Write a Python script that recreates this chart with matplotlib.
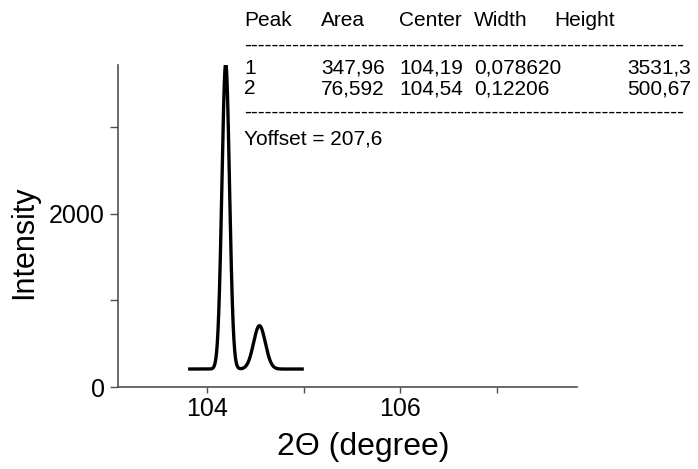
import numpy as np
import matplotlib
matplotlib.use("Agg")
import matplotlib.pyplot as plt

plt.rcParams['font.family'] = ['Liberation Sans', 'DejaVu Sans']

# ---- data (Gaussian fit results shown in the chart) ----
peak_ids = ["1", "2"]
peak_area = [347.96, 76.592]
peak_center = [104.19, 104.54]
peak_width = [0.078620, 0.12206]
peak_height = [3531.3, 500.67]
y_offset = 207.6
x_start, x_end = 103.8, 105.0

area_txt = ["347,96", "76,592"]
center_txt = ["104,19", "104,54"]
width_txt = ["0,078620", "0,12206"]
height_txt = ["3531,3", "500,67"]
header = ["Peak", "Area", "Center", "Width", "Height"]

x_ticks = [104, 105, 106, 107]
x_ticklabels = ["104", "", "106", ""]
y_ticks = [0, 1000, 2000, 3000]
y_ticklabels = ["0", "", "2000", ""]

# ---- figure ----
W, H = 698, 469
fig = plt.figure(figsize=(W / 100, H / 100), dpi=100)
ax = fig.add_axes([118 / W, 1 - 387 / H, (577 - 118) / W, (387 - 65) / H])

x = np.linspace(x_start, x_end, 2001)
y = np.full_like(x, y_offset)
for h, c, w in zip(peak_height, peak_center, peak_width):
    y += h * np.exp(-2 * ((x - c) / w) ** 2)
ax.plot(x, y, color="black", lw=2.4, solid_capstyle="butt", solid_joinstyle="round")

ax.set_xlim(103.073, 107.833)
ax.set_ylim(0, 3720)
for s in ["top", "right"]:
    ax.spines[s].set_visible(False)
for s in ["left", "bottom"]:
    ax.spines[s].set_color("#505050")
    ax.spines[s].set_linewidth(1.2)

ax.set_xticks(x_ticks)
ax.set_xticklabels(x_ticklabels)
ax.set_yticks(y_ticks)
ax.set_yticklabels(y_ticklabels)
ax.tick_params(axis="x", direction="out", length=4.5, width=1, color="#505050",
               labelsize=18, pad=3)
ax.tick_params(axis="y", direction="out", length=5.5, width=1, color="#505050",
               labelsize=18, pad=4)

# axis labels
fig.text(363 / W, 1 - 447 / H, "2\u0398 (degree)", ha="center", va="center", fontsize=23)
fig.text(24 / W, 1 - 242 / H, "Intensity", ha="center", va="center",
         rotation=90, fontsize=22)

# fit table
fs = 15
cols = [244, 321, 399, 474, 554]
for cx, t in zip(cols, header):
    fig.text(cx / W, 1 - 20 / H, t, ha="left", va="center", fontsize=fs)
dash = "-" * 64
fig.text(244 / W, 1 - 45 / H, dash, ha="left", va="center", fontsize=fs)
rows_y = [68, 89]
for ry, pid, a, c, wd, ht in zip(rows_y, peak_ids, area_txt, center_txt, width_txt, height_txt):
    for cx, t in zip([244, 321, 399, 474, 627], [pid, a, c, wd, ht]):
        fig.text(cx / W, 1 - ry / H, t, ha="left", va="center", fontsize=fs)
fig.text(244 / W, 1 - 112 / H, dash, ha="left", va="center", fontsize=fs)
fig.text(244 / W, 1 - 139 / H, "Yoffset = " + str(y_offset).replace(".", ","),
         ha="left", va="center", fontsize=fs)

fig.savefig("out.png", dpi=100)
